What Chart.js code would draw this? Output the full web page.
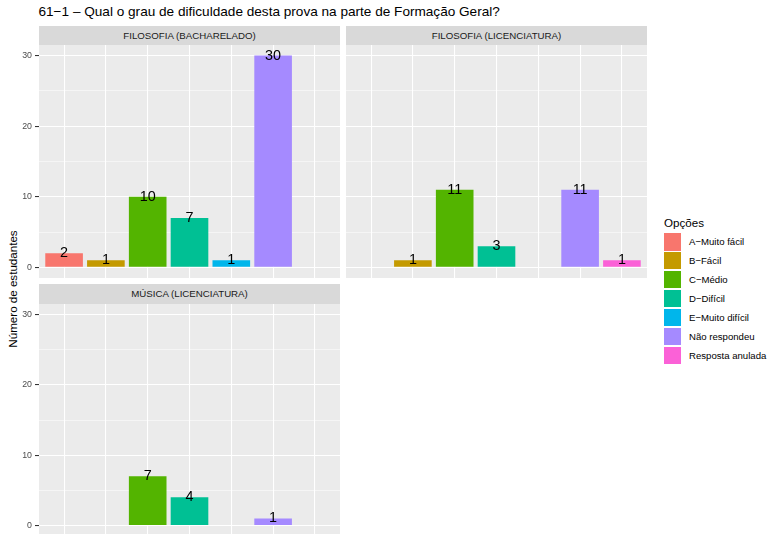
<!DOCTYPE html>
<html>
<head>
<meta charset="utf-8">
<script src="https://cdn.jsdelivr.net/npm/chart.js@4"></script>
<style>
  body { margin: 0; background: #fff; }
  #page { position: relative; width: 767px; height: 534px; overflow: hidden;
          font-family: "Liberation Sans", Arial, sans-serif; }
  .txt { position: absolute; white-space: nowrap; }
  .strip { position: absolute; background: #d9d9d9; color: #1a1a1a; font-size: 9.7px;
           text-align: center; height: 19.5px; line-height: 19.5px; }
  canvas { position: absolute; }
  .key { position: absolute; width: 17.3px; height: 17.3px; }
  .keylab { position: absolute; font-size: 9.6px; color: #000; line-height: 17.3px; white-space: nowrap; }
</style>
</head>
<body>
<div id="page">
  <div class="txt" id="titulo" style="left:38.5px; top:4px; font-size:13.6px; line-height:16px; color:#000;"></div>
  <div class="txt" id="ytitulo" style="left:-87.5px; top:280.5px; width:200px; text-align:center; font-size:11.6px; line-height:16px; color:#000; transform:rotate(-90deg);"></div>

  <div class="strip" id="strip0" style="left:39px; top:26px; width:301px;"></div>
  <div class="strip" id="strip1" style="left:346px; top:26px; width:301px;"></div>
  <div class="strip" id="strip2" style="left:39px; top:284px; width:301px;"></div>

  <canvas id="painel0" width="340" height="233" style="left:0px; top:45px;"></canvas>
  <canvas id="painel1" width="301" height="233" style="left:346px; top:45px;"></canvas>
  <canvas id="painel2" width="340" height="232" style="left:0px; top:304px;"></canvas>

  <div id="legenda"></div>
</div>

<script>
// --- dados ---
const titulo = '61\u22121 \u2013 Qual o grau de dificuldade desta prova na parte de Formação Geral?';
const yTitulo = 'Número de estudantes';
const legendaTitulo = 'Opções';

const opcoes = ['A\u2212Muito fácil', 'B\u2212Fácil', 'C\u2212Médio', 'D\u2212Difícil',
                'E\u2212Muito difícil', 'Não respondeu', 'Resposta anulada'];
const cores = ['#F8766D', '#C49A00', '#53B400', '#00C094', '#00B6EB', '#A58AFF', '#FB61D7'];

const cursos = ['FILOSOFIA (BACHARELADO)', 'FILOSOFIA (LICENCIATURA)', 'MÚSICA (LICENCIATURA)'];
const filosofiaBacharelado = [2, 1, 10, 7, 1, 30, null];
const filosofiaLicenciatura = [null, 1, 11, 3, null, 11, 1];
const musicaLicenciatura = [null, null, 7, 4, null, 1, null];

const yTicks = [0, 10, 20, 30];
const yMinor = [5, 15, 25];

const FONTE = '"Liberation Sans", Arial, sans-serif';

// --- textos fixos ---
document.getElementById('titulo').textContent = titulo;
document.getElementById('ytitulo').textContent = yTitulo;
cursos.forEach((c, i) => { document.getElementById('strip' + i).textContent = c; });

// legenda
const legenda = document.getElementById('legenda');
const lt = document.createElement('div');
lt.className = 'txt';
lt.style.cssText = 'left:664px; top:214.5px; font-size:11.6px; line-height:16px; color:#000;';
lt.textContent = legendaTitulo;
legenda.appendChild(lt);
opcoes.forEach((op, i) => {
    const top = 233.3 + i * 18.9;
    const k = document.createElement('div');
    k.className = 'key';
    k.style.left = '663.5px';
    k.style.top = top + 'px';
    k.style.background = cores[i];
    legenda.appendChild(k);
    const l = document.createElement('div');
    l.className = 'keylab';
    l.style.left = '689px';
    l.style.top = top + 'px';
    l.textContent = op;
    legenda.appendChild(l);
});

// --- plugins ---
const fundoPainel = {
    id: 'fundoPainel',
    beforeDraw(chart) {
        const { ctx, chartArea: a } = chart;
        ctx.save();
        ctx.fillStyle = '#ebebeb';
        ctx.fillRect(a.left, a.top, a.right - a.left, a.bottom - a.top);
        ctx.restore();
    }
};

const rotulos = {
    id: 'rotulos',
    afterDatasetsDraw(chart) {
        const ctx = chart.ctx;
        const meta = chart.getDatasetMeta(0);
        const ds = chart.data.datasets[0];
        ctx.save();
        ctx.font = '14.4px ' + FONTE;
        ctx.fillStyle = '#000';
        ctx.textAlign = 'center';
        ctx.textBaseline = 'middle';
        meta.data.forEach((bar, i) => {
            ctx.fillText(String(ds.data[i].y), bar.x, bar.y);
        });
        ctx.restore();
    }
};

const isMajor = c => c.tick && yTicks.includes(c.tick.value);

function makePanel(canvasId, valores, showY) {
    const pontos = [];
    const coresBarras = [];
    valores.forEach((v, i) => {
        if (v !== null) {
            pontos.push({ x: i, y: v });
            coresBarras.push(cores[i]);
        }
    });

    return new Chart(document.getElementById(canvasId), {
        type: 'bar',
        data: {
            datasets: [{
                data: pontos,
                backgroundColor: coresBarras,
                borderWidth: 0,
                barPercentage: 0.9,
                categoryPercentage: 1
            }]
        },
        options: {
            responsive: false,
            animation: false,
            devicePixelRatio: 1,
            layout: { padding: 0 },
            plugins: { legend: { display: false }, tooltip: { enabled: false } },
            scales: {
                x: {
                    type: 'linear',
                    offset: false,
                    min: -0.6,
                    max: opcoes.length - 1 + 0.6,
                    afterBuildTicks: s => { s.ticks = opcoes.map((_, i) => ({ value: i })); },
                    afterFit: s => { s.height = 0; s.paddingLeft = 0; s.paddingRight = 0; },
                    ticks: { display: false },
                    border: { display: false },
                    grid: { offset: false, color: '#ffffff', lineWidth: 1.07, drawTicks: false }
                },
                y: {
                    type: 'linear',
                    min: -1.5,
                    max: 31.5,
                    afterBuildTicks: s => {
                        s.ticks = yTicks.concat(yMinor).sort((a, b) => a - b).map(v => ({ value: v }));
                    },
                    afterFit: s => { s.width = showY ? 39 : 0; s.paddingTop = 0; s.paddingBottom = 0; },
                    ticks: {
                        display: showY,
                        color: '#4d4d4d',
                        font: { size: 8.8, family: FONTE },
                        padding: 3,
                        callback: v => yTicks.includes(v) ? String(v) : ''
                    },
                    border: { display: false },
                    grid: {
                        color: '#ffffff',
                        lineWidth: c => isMajor(c) ? 1.07 : 0.53,
                        drawTicks: showY,
                        tickLength: 4,
                        tickWidth: 1.07,
                        tickColor: c => isMajor(c) ? '#333333' : 'rgba(0,0,0,0)'
                    }
                }
            }
        },
        plugins: [fundoPainel, rotulos]
    });
}

makePanel('painel0', filosofiaBacharelado, true);
makePanel('painel1', filosofiaLicenciatura, false);
makePanel('painel2', musicaLicenciatura, true);
</script>
</body>
</html>
